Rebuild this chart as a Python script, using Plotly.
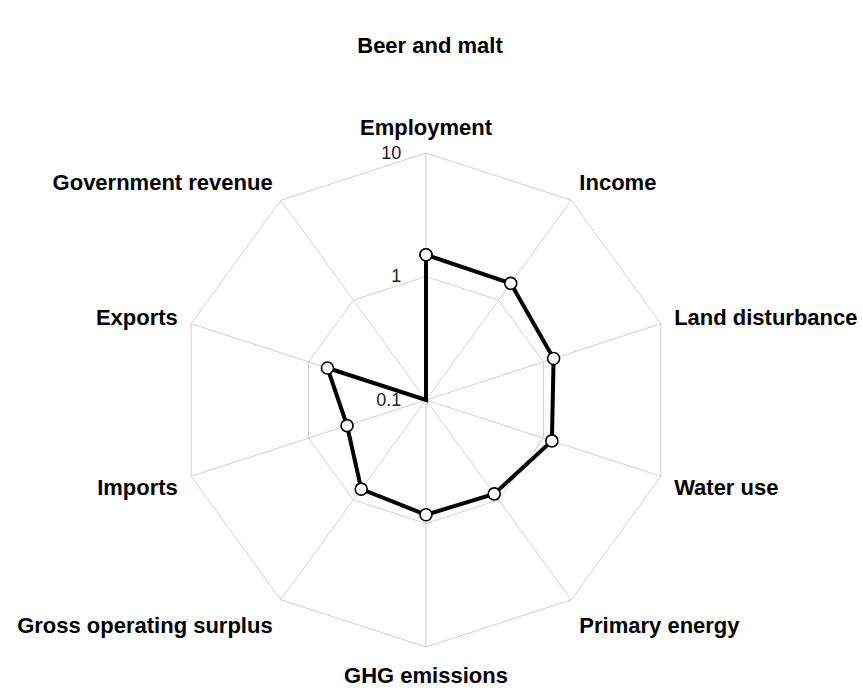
import math
import plotly.graph_objects as go

categories = ["Employment", "Income", "Land disturbance", "Water use", "Primary energy",
              "GHG emissions", "Gross operating surplus", "Imports", "Exports", "Government revenue"]
values = [1.5, 1.47, 1.22, 1.18, 0.87, 0.85, 0.78, 0.47, 0.69, 0.1]
tick_vals = [0.1, 1, 10]
tick_text = ["0.1", "1", "10"]

# logarithmic radial scale: 0.1 at the centre, 10 at the outer ring
r_min = tick_vals[0]
def to_log(v):
    return math.log10(v / r_min)

r_plot = [to_log(v) for v in values]
tick_pos = [to_log(v) for v in tick_vals]

fig = go.Figure()
fig.add_trace(go.Scatterpolar(
    r=r_plot + r_plot[:1],
    theta=categories + categories[:1],
    mode="lines+markers",
    line=dict(color="black", width=4),
    marker=dict(size=12, color="white", symbol="circle", line=dict(color="black", width=1.6)),
    customdata=values + values[:1],
    hovertemplate="%{theta}: %{customdata}<extra></extra>",
    showlegend=False,
))

W, H = 863, 691
cx, cy, R = 426, 400, 247
fig.update_layout(
    width=W, height=H,
    paper_bgcolor="white",
    margin=dict(l=0, r=0, t=0, b=0),
    font=dict(family="Liberation Sans, Arial, sans-serif", color="black"),
    title=dict(text="<b>Beer and malt</b>", x=430 / W, xanchor="center",
               y=1 - 45 / H, yanchor="middle", font=dict(size=22, color="black")),
    polar=dict(
        domain=dict(x=[(cx - R) / W, (cx + R) / W], y=[(H - cy - R) / H, (H - cy + R) / H]),
        bgcolor="white",
        gridshape="linear",
        angularaxis=dict(
            rotation=90, direction="clockwise",
            categoryorder="array", categoryarray=categories,
            gridcolor="#d0d0d0", linecolor="#d0d0d0", gridwidth=1,
            tickfont=dict(size=22, color="black", family="Liberation Sans, Arial, sans-serif", weight="bold"),
            ticks="outside", ticklen=9, tickcolor="rgba(0,0,0,0)",
        ),
        radialaxis=dict(
            type="linear", range=[tick_pos[0], tick_pos[-1]], angle=90, tickangle=90,
            tickvals=tick_pos, ticktext=tick_text,
            gridcolor="#d0d0d0", showline=False,
            ticks="outside", ticklen=18, tickcolor="rgba(0,0,0,0)",
            tickfont=dict(size=18, color="#222"),
            side="counterclockwise",
        ),
    ),
)
fig.write_html("out.html", config={"displayModeBar": False},
               post_script="document.body.style.margin='0';document.body.style.overflow='hidden';")
